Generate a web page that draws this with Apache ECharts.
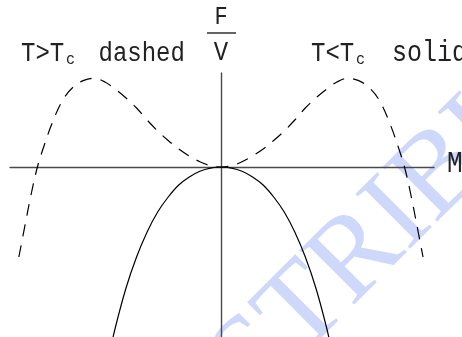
<!DOCTYPE html>
<html>
<head>
<meta charset="utf-8">
<script src="https://cdn.jsdelivr.net/npm/echarts@6/dist/echarts.min.js"></script>
<style>
  html, body { margin: 0; padding: 0; background: #fff; }
  #chart { width: 462px; height: 337px; }
</style>
</head>
<body>
<div id="chart"></div>
<script>
// Free energy density F/V against the order parameter M (Landau picture)
// T > Tc : dashed curve,  T < Tc : solid curve
const mDashed = [-0.958, -0.925, -0.90, -0.875, -0.85, -0.80, -0.75, -0.70, -0.65, -0.60, -0.55, -0.50, -0.45, -0.40, -0.35, -0.30, -0.25, -0.20, -0.15, -0.10, -0.05, 0,
                 0.05, 0.10, 0.15, 0.20, 0.25, 0.30, 0.35, 0.40, 0.45, 0.50, 0.55, 0.60, 0.65, 0.70, 0.75, 0.80, 0.85, 0.875, 0.90, 0.925, 0.958];
const fDashed = [-0.90, -0.54, -0.275, -0.04, 0.14, 0.44, 0.67, 0.80, 0.866, 0.887, 0.85, 0.777, 0.69, 0.59, 0.47, 0.36, 0.265, 0.18, 0.11, 0.052, 0.013, 0,
                 0.013, 0.052, 0.11, 0.18, 0.265, 0.36, 0.47, 0.59, 0.69, 0.777, 0.85, 0.887, 0.866, 0.80, 0.67, 0.44, 0.14, -0.04, -0.275, -0.54, -0.90];

const mSolid = [-0.53, -0.50, -0.45, -0.40, -0.35, -0.30, -0.25, -0.20, -0.15, -0.10, -0.05, 0,
                0.05, 0.10, 0.15, 0.20, 0.25, 0.30, 0.35, 0.40, 0.45, 0.50, 0.53];
const fSolid = [-1.88, -1.60, -1.21, -0.90, -0.65, -0.45, -0.30, -0.18, -0.10, -0.043, -0.011, 0,
                -0.011, -0.043, -0.10, -0.18, -0.30, -0.45, -0.65, -0.90, -1.21, -1.60, -1.88];

const mRange = [-1, 1.01];
const fRange = [-1.7, 0.94];

const toPairs = (xs, ys) => xs.map((x, i) => [x, ys[i]]);

const MONO = '"Liberation Mono", "DejaVu Sans Mono", monospace';
const SERIF = '"Liberation Serif", "DejaVu Serif", serif';
const SY = 1.15; // tall lettering of the annotations

function label(text, x, y, size, align) {
  return {
    type: 'text', x: x, y: y, scaleY: SY, z: 10,
    style: { text: text, font: size + 'px ' + MONO, fill: '#222', align: align || 'left', verticalAlign: 'middle' }
  };
}

const chart = echarts.init(document.getElementById('chart'), null, { renderer: 'canvas' });

chart.setOption({
  animation: false,
  backgroundColor: '#fff',
  grid: { left: 10, right: 28, top: 73, bottom: 0, containLabel: false },
  xAxis: {
    type: 'value', min: mRange[0], max: mRange[1],
    axisLine: { show: true, onZero: true, lineStyle: { color: '#4a4a4a', width: 1.4 } },
    axisTick: { show: false }, axisLabel: { show: false }, splitLine: { show: false }
  },
  yAxis: {
    type: 'value', min: fRange[0], max: fRange[1],
    axisLine: { show: true, onZero: true, lineStyle: { color: '#4a4a4a', width: 1.4 } },
    axisTick: { show: false }, axisLabel: { show: false }, splitLine: { show: false }
  },
  series: [
    {
      name: 'T>Tc', type: 'line', data: toPairs(mDashed, fDashed),
      smooth: 0.35, showSymbol: false, clip: true, z: 3,
      lineStyle: { color: '#000', width: 1.2, type: [12, 9] }
    },
    {
      name: 'T<Tc', type: 'line', data: toPairs(mSolid, fSolid),
      smooth: 0.35, showSymbol: false, clip: true, z: 3,
      lineStyle: { color: '#000', width: 1.2, type: 'solid' }
    }
  ],
  graphic: [
    {
      type: 'text', x: 144, y: 471, rotation: 45 * Math.PI / 180, z: -5, silent: true,
      style: { text: 'DISTRIBUTE', font: '118px ' + SERIF, fill: '#cdd8fb', align: 'left', verticalAlign: 'middle' }
    },
    label('T>T', 21, 53.7, 24),
    label('c', 66, 59.8, 15),
    label('dashed', 98.5, 53.7, 24),
    label('T<T', 311, 53.7, 24),
    label('c', 356, 59.8, 15),
    label('solid', 392, 53.7, 25),
    label('F', 221, 17.5, 22, 'center'),
    label('V', 221, 52.7, 24, 'center'),
    label('M', 447, 163.7, 26),
    {
      type: 'line', z: 10,
      shape: { x1: 207, y1: 33, x2: 236, y2: 33 },
      style: { stroke: '#222', lineWidth: 1.4 }
    }
  ]
});
</script>
</body>
</html>
